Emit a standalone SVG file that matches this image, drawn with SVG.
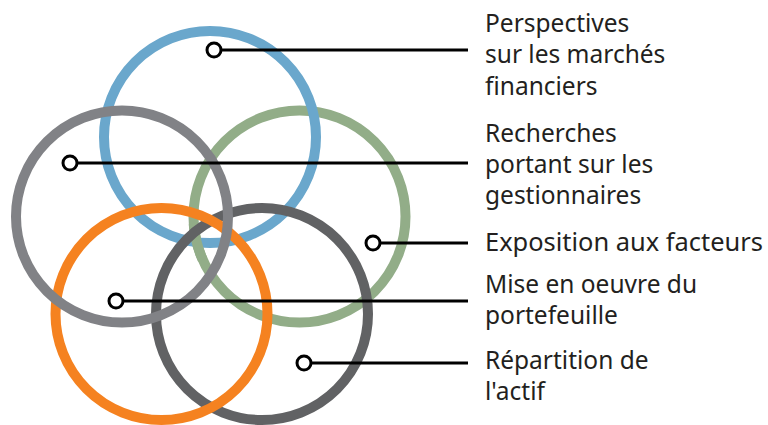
<svg xmlns="http://www.w3.org/2000/svg" width="768" height="425" viewBox="0 0 768 425">
<style>
.ring{fill:none;stroke-width:10}
.lead{stroke:#000;stroke-width:3;fill:none}
.dot{fill:#fff;stroke:#000;stroke-width:3}
.lbl{font-family:"Noto Sans","Liberation Sans",sans-serif;font-size:24.5px;fill:#231f20}
</style>
<rect width="768" height="425" fill="#fff"/>
<g id="ring-green"><circle class="ring" cx="299.5" cy="216.5" r="106" stroke="#92ad88"/></g>
<g id="ring-blue"><circle class="ring" cx="210" cy="137" r="106" stroke="#6aa7cc"/></g>
<g id="ring-green-over"><path class="ring" d="M 202.67 259.61 A 106 106 0 0 1 193.76 223.90" stroke="#92ad88"/></g>
<g id="ring-darkgray"><circle class="ring" cx="262" cy="314" r="106" stroke="#616264"/></g>
<g id="ring-orange"><circle class="ring" cx="161.5" cy="314" r="106" stroke="#f58220"/></g>
<g id="ring-gray"><circle class="ring" cx="122" cy="216.5" r="106" stroke="#818286"/></g>
<g id="connectors">
<line class="lead" x1="214" y1="50" x2="468" y2="50"/>
<line class="lead" x1="70" y1="163" x2="468" y2="163"/>
<line class="lead" x1="373" y1="243" x2="468" y2="243"/>
<line class="lead" x1="116" y1="301" x2="468" y2="301"/>
<line class="lead" x1="304" y1="363" x2="468" y2="363"/>
<circle class="dot" cx="214" cy="50" r="7"/>
<circle class="dot" cx="70" cy="163" r="7"/>
<circle class="dot" cx="373" cy="243" r="7"/>
<circle class="dot" cx="116" cy="301" r="7"/>
<circle class="dot" cx="304" cy="363" r="7"/>
</g>
<g id="label-perspectives"><text class="lbl"><tspan x="485" y="32">Perspectives</tspan><tspan x="485" y="63">sur les marchés</tspan><tspan x="485" y="95">financiers</tspan></text></g>
<g id="label-recherches"><text class="lbl"><tspan x="485" y="142">Recherches</tspan><tspan x="485" y="173">portant sur les</tspan><tspan x="485" y="204">gestionnaires</tspan></text></g>
<g id="label-exposition"><text class="lbl" x="485" y="251" textLength="278" lengthAdjust="spacingAndGlyphs">Exposition aux facteurs</text></g>
<g id="label-mise"><text class="lbl"><tspan x="485" y="293">Mise en oeuvre du</tspan><tspan x="485" y="324">portefeuille</tspan></text></g>
<g id="label-repartition"><text class="lbl"><tspan x="485" y="369">Répartition de</tspan><tspan x="485" y="400">l'actif</tspan></text></g>
</svg>
